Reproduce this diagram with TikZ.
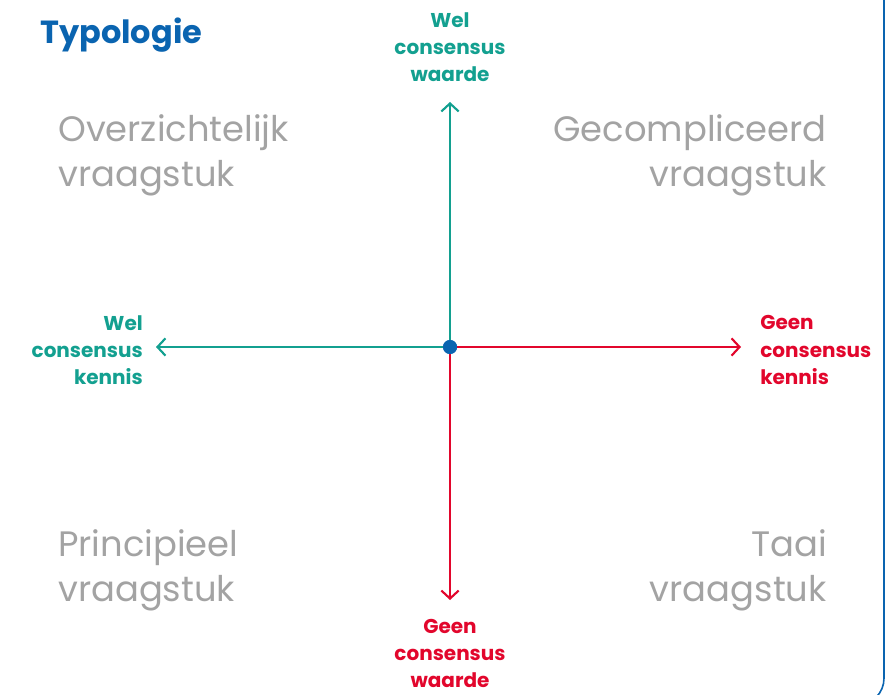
\documentclass[tikz,border=0pt]{standalone}
\usepackage{fontspec}
\setmainfont{Poppins}
\usetikzlibrary{arrows.meta,positioning}

\definecolor{tealwel}{HTML}{13A090}
\definecolor{redgeen}{HTML}{E2062C}
\definecolor{bluetitle}{HTML}{0A64B0}
\definecolor{grayq}{HTML}{A3A3A3}

\tikzset{
  axis/.style={line width=1.6pt, -{Straight Barb[length=6pt,width=13pt,line width=1.6pt]}},
  axlabel/.style={font=\fontsize{15}{20.3}\selectfont\bfseries, align=center, inner sep=0pt},
  quadrant/.style={font=\fontsize{26.5}{34}\selectfont, text=grayq, inner sep=0pt},
}

\begin{document}
\begin{tikzpicture}[x=0.75pt,y=-0.75pt]
\useasboundingbox (0,0) rectangle (896,695);
\begin{scope}
\clip (0,0) rectangle (896,695);
\draw[bluetitle, line width=1.2pt, rounded corners=20pt] (-20,-80) rectangle (884,705);
\end{scope}

% Title
\node[anchor=west, inner sep=0pt, text=bluetitle, font=\fontsize{24}{28}\selectfont\bfseries] (title) at (40,35) {Typologie};

% Center
\node[circle, fill=bluetitle, minimum size=10.5pt, inner sep=0pt] (c) at (450,347) {};
\coordinate (top) at (450,102);
\coordinate (bot) at (450,600);
\coordinate (lft) at (156,347);
\coordinate (rgt) at (741,347);

% Axes
\draw[axis, tealwel] (c.center) -- (top);
\draw[axis, tealwel] (c.center) -- (lft);
\draw[axis, redgeen] (c.center) -- (rgt);
\draw[axis, redgeen] (c.center) -- (bot);
\node[circle, fill=bluetitle, minimum size=10.5pt, inner sep=0pt] at (c) {};

% Axis labels
\node[axlabel, text=tealwel, anchor=south] (welwaarde) at (450,82) {Wel\\consensus\\waarde};
\node[axlabel, text=tealwel, align=right, anchor=east] (welkennis) at (143,350) {Wel\\consensus\\kennis};
\node[axlabel, text=redgeen, align=left, anchor=west] (geenkennis) at (760,350) {Geen\\consensus\\kennis};
\node[axlabel, text=redgeen, anchor=north] (geenwaarde) at (450,619) {Geen\\consensus\\waarde};

% Quadrants
\node[quadrant, align=left, anchor=north west] (ov) at (58,114) {Overzichtelijk\\vraagstuk};
\node[quadrant, align=right, anchor=north east] (ge) at (827,114) {Gecompliceerd\\vraagstuk};
\node[quadrant, align=left, anchor=north west] (pr) at (58,529) {Principieel\\vraagstuk};
\node[quadrant, align=right, anchor=north east] (ta) at (827,529) {Taai\\vraagstuk};
\end{tikzpicture}
\end{document}
